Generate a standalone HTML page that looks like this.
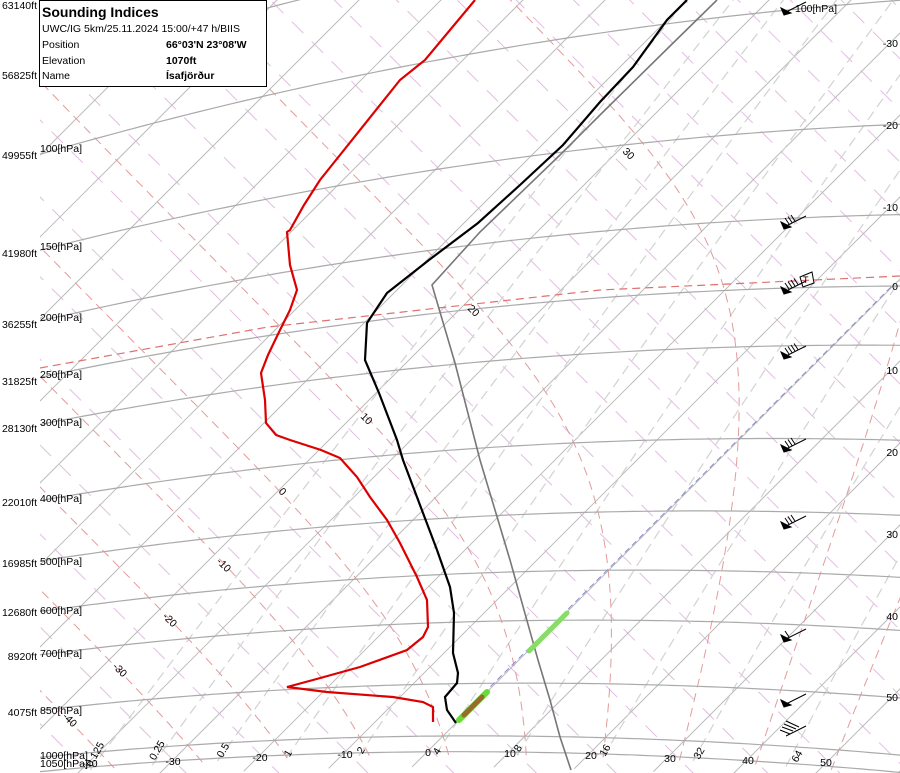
<!DOCTYPE html>
<html><head><meta charset="utf-8">
<style>
html,body{margin:0;padding:0;background:#fff;width:900px;height:773px;overflow:hidden;}
svg{display:block;font-family:"Liberation Sans",sans-serif;overflow:hidden;}
</style></head>
<body>
<svg id="s" width="900" height="773" viewBox="0 0 900 773" xmlns="http://www.w3.org/2000/svg">
<defs><clipPath id="cp"><rect x="40" y="0" width="860" height="773"/></clipPath><clipPath id="all"><rect x="0" y="0" width="900" height="773"/></clipPath></defs>
<g clip-path="url(#all)">
<g id="grid" clip-path="url(#cp)"></g>
<g id="data">
<polyline fill="none" stroke="#d00" stroke-width="2.2" points="475,0 425,60 400,80 348,145 320,180 304,205 290,230 287,232 290,265 297,290 290,310 280,330 268,355 261,373 265,400 266,423 276,435 290,440 321,450 340,458 357,477 370,497 387,520 400,543 417,577 427,600 428,627 423,637 407,650 360,667 313,680 287,687 327,692 393,697 423,702 433,707 433,722"/>
<polyline fill="none" stroke="#777" stroke-width="1.6" points="717,0 668,48 600,115 560,155 480,232 432,285 455,363 480,460 510,560 538,660 550,700 560,737 571,770"/>
<polyline fill="none" stroke="#000" stroke-width="2.2" points="687,0 667,20 633,67 600,102 563,145 520,185 478,223 429,260 387,293 367,323 365,360 379,393 397,440 403,460 423,513 437,550 450,587 454,613 453,653 458,673 457,683 445,697 447,710 456,723"/>
<line x1="459" y1="720" x2="487" y2="692" stroke="#6d3" stroke-width="6" stroke-linecap="round"/>
<line x1="464" y1="715" x2="482" y2="697" stroke="#9a6a2a" stroke-width="5" stroke-linecap="round"/>
<line x1="529" y1="651" x2="567" y2="613" stroke="#8d6" stroke-width="5" stroke-linecap="round"/>
</g>
<g id="lbl" font-size="10.5" fill="#000"></g>
<g>
<rect x="39.5" y="0.5" width="227" height="86" fill="#fff" stroke="#000"/>
<text x="42" y="17" font-size="14" font-weight="bold">Sounding Indices</text>
<text x="42" y="32" font-size="10.5">UWC/IG 5km/25.11.2024 15:00/+47 h/BIIS</text>
<text x="42" y="48" font-size="10.5">Position</text>
<text x="42" y="64" font-size="10.5">Elevation</text>
<text x="42" y="79" font-size="10.5">Name</text>
<text x="166" y="48" font-size="10.5" font-weight="bold">66°03'N 23°08'W</text>
<text x="166" y="64" font-size="10.5" font-weight="bold">1070ft</text>
<text x="166" y="79" font-size="10.5" font-weight="bold">Ísafjörður</text>
</g>
</g>
</svg>
<script>
const NS="http://www.w3.org/2000/svg";
const c1=4.1,c2=1136,OX=443,OY=736,L0=Math.log(273.15),K=0.2857;
function P(T,p){const L=Math.log(T+273.15)+K*Math.log(1000/p)-L0;return [OX+c1*T+c2*L,OY+c1*T-c2*L];}
const g=document.getElementById('grid');
function inb(p){return p[0]>-50&&p[0]<950&&p[1]>-50&&p[1]<823;}
function pl(pts,stroke,w,dash){pts=pts.filter(inb);if(pts.length<2)return;const e=document.createElementNS(NS,'polyline');e.setAttribute('points',pts.map(p=>p[0].toFixed(1)+','+p[1].toFixed(1)).join(' '));e.setAttribute('fill','none');e.setAttribute('stroke',stroke);e.setAttribute('stroke-width',w);if(dash)e.setAttribute('stroke-dasharray',dash);g.appendChild(e);}
function seg(a,b,stroke,w,dash){let pts=[];for(let i=0;i<=100;i++){pts.push([a[0]+(b[0]-a[0])*i/100,a[1]+(b[1]-a[1])*i/100]);}pl(pts,stroke,w,dash);}
for(let th=180;th<=520;th+=10){const L=Math.log(th)-L0;seg([OX+c1*-200+c2*L,OY+c1*-200-c2*L],[OX+c1*120+c2*L,OY+c1*120-c2*L],'#e2bde2',1,'16 12');}
for(let T=-170;T<=60;T+=10){seg(P(T,1100),P(T,5),'#bbb',1);}
[0.125,0.25,0.5,1,2,4,8,16,32,64].forEach(w=>{let pts=[];for(let p=1060;p>=60;p-=10){const e=w*p/(622+w);const l=Math.log(e/6.112);const Td=243.5*l/(17.67-l);pts.push(P(Td,p));}pl(pts,'#d2d2d2',1.2,'10 6');});
function dTdp(T,p){const Tk=T+273.15;const es=6.112*Math.exp(17.67*T/(T+243.5));const rs=0.622*es/(p-es);const Rd=287,cp=1005,Lv=2.5e6;return (Rd*Tk+Lv*rs)/(p*(cp+Lv*Lv*rs*0.622/(Rd*Tk*Tk)));}
for(let tw=-40;tw<=50;tw+=10){let T=tw;let up=[];for(let p=1000;p>=40;p-=2){up.push(P(T,p));T-=dTdp(T,p)*2;}let dn=[];T=tw;for(let p=1000;p<=1060;p+=2){dn.push(P(T,p));T+=dTdp(T,p)*2;}pl(dn.reverse().concat(up),'#e49a9a',1,'9 6');}
[50,70,100,150,200,250,300,400,500,600,700,850,1000,1050].forEach(p=>{let pts=[];for(let T=-170;T<=90;T+=1)pts.push(P(T,p));pl(pts,'#aaa',1.2);});
pl([[40,368],[268,327],[600,290],[900,276]],'#e07070',1.2,'8 5');
pl([[455,722],[893,285]],'#8888dd',1,'6 4');
const lb=document.getElementById('lbl');
function tx(x,y,s,opt){const e=document.createElementNS(NS,'text');e.setAttribute('x',x);e.setAttribute('y',y);e.textContent=s;if(opt){for(const k in opt)e.setAttribute(k,opt[k]);}lb.appendChild(e);}
const L=[["63140ft",9,null],["56825ft",79,null],["49955ft",159,"100[hPa]",152],["41980ft",257,"150[hPa]",250],["36255ft",328,"200[hPa]",321],["31825ft",385,"250[hPa]",378],["28130ft",432,"300[hPa]",426],["22010ft",506,"400[hPa]",502],["16985ft",567,"500[hPa]",565],["12680ft",616,"600[hPa]",614],["8920ft",660,"700[hPa]",657],["4075ft",716,"850[hPa]",714]];
L.forEach(a=>{tx(37,a[1],a[0],{"text-anchor":"end"});if(a[2])tx(40,a[3],a[2]);});
tx(40,759,"1000[hPa]");tx(40,767,"1050[hPa]");
tx(795,12,"100[hPa]");
[["-30",47],["-20",129],["-10",211],["0",290],["10",374],["20",456],["30",538],["40",620],["50",701]].forEach(a=>tx(898,a[1],a[0],{"text-anchor":"end"}));
[["-40",90,767],["-30",173,765],["-20",260,761],["-10",345,758],["0",428,756],["10",510,757],["20",591,759],["30",670,762],["40",748,764],["50",826,766]].forEach(a=>tx(a[1],a[2],a[0],{"text-anchor":"middle"}));
[["0.125",98,756],["0.25",160,752],["0.5",226,752],["1",291,755],["2",364,752],["4",440,753],["8",521,750],["16",608,752],["32",702,755],["64",800,758]].forEach(a=>tx(a[1],a[2],a[0],{"text-anchor":"middle",transform:"rotate(-60 "+a[1]+" "+a[2]+")"}));
[["30",622,152],["20",467,309],["10",360,417],["0",278,492],["-10",216,562],["-20",162,617],["-30",112,667],["-40",62,717]].forEach(a=>tx(a[1],a[2],a[0],{transform:"rotate(45 "+a[1]+" "+a[2]+")"}));
function barb(y,n){const d=document.getElementById('data');const s=`<g stroke="#000" stroke-width="1" fill="#000"><line x1="786" y1="${y+4}" x2="806" y2="${y-6}"/><polygon points="781,${y} 791,${y+5} 784,${y+7}"/>`+Array.from({length:n},(_,i)=>`<line x1="${789+i*3}" y1="${y+2-i*1.5}" x2="${785+i*3}" y2="${y-4-i*1.5}"/>`).join('')+`</g>`;d.insertAdjacentHTML('beforeend',s);}
[[8,0],[222,3],[287,4],[352,4],[445,3],[522,3],[635,1],[700,0]].forEach(a=>barb(a[0],a[1]));
document.getElementById('data').insertAdjacentHTML('beforeend','<g stroke="#000" stroke-width="1" fill="none"><line x1="786" y1="736" x2="806" y2="726"/><line x1="780" y1="730" x2="790" y2="734"/><line x1="782" y1="727" x2="793" y2="731"/><line x1="784" y1="724" x2="796" y2="729"/><line x1="786" y1="721" x2="799" y2="727"/><polygon points="800,277 812,272 814,283 803,287"/></g><text x="803" y="283" font-size="9">T</text>');
</script>
</body></html>
